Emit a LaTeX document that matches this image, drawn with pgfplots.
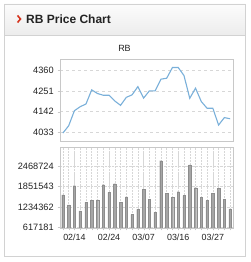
\documentclass[border=0pt]{standalone}
\usepackage{pgfplots}
\pgfplotsset{compat=1.18}
\usepackage{fontspec}
\setmainfont{Liberation Sans}
\definecolor{framec}{RGB}{210,210,210}
\definecolor{axc}{RGB}{200,200,200}
\definecolor{gridc}{RGB}{215,215,215}
\definecolor{linec}{RGB}{122,176,218}
\definecolor{barc}{RGB}{166,166,166}
\definecolor{txt}{RGB}{35,35,35}
\definecolor{hdtop}{RGB}{252,252,252}
\definecolor{hdbot}{RGB}{236,236,236}
\definecolor{chev}{RGB}{214,52,30}
\begin{document}
\begin{tikzpicture}[x=1pt,y=1pt]
\path[use as bounding box] (0,0) rectangle (250,262);
\fill[white] (0,0) rectangle (250,262);
\shade[top color=hdtop,bottom color=hdbot] (4,227) rectangle (245,258);
\draw[framec,line width=0.8pt] (4,6) rectangle (245,258);
\draw[framec,line width=0.8pt] (4,227) -- (245,227);
\draw[chev,line width=1.6pt] (17.5,246.5) -- (20.5,243) -- (17.5,239.5);
\node[anchor=west,inner sep=0pt,font=\fontsize{12}{14}\selectfont\bfseries,text=txt] at (26,243) {RB Price Chart};
\node[inner sep=0pt,font=\fontsize{9}{11}\selectfont,text=txt] at (124.5,213.7) {RB};
\begin{axis}[
  at={(60pt,121pt)}, anchor=south west,
  scale only axis, width=173pt, height=82pt,
  xmin=0.5, xmax=30.5, ymin=3988.5, ymax=4417.6,
  axis line style={axc},
  xtick=\empty,
  ytick={4033,4142,4251,4360},
  yticklabels={4033,4142,4251,4360},
  ymajorgrids, grid style={gridc,dashed,line width=0.5pt},
  tick style={axc}, major tick length=2.5pt,
  tick align=outside, ytick pos=left,
  yticklabel style={font=\fontsize{9.2}{10}\selectfont,text=txt,xshift=-0.3pt},
]
\addplot[linec,line width=1.1pt,mark=none] coordinates {
(1,4030) (2,4068) (3,4147) (4,4168) (5,4182) (6,4256) (7,4237) (8,4228) (9,4228) (10,4198)
(11,4175) (12,4217) (13,4230) (14,4273) (15,4213) (16,4251) (17,4251) (18,4312) (19,4317) (20,4373)
(21,4373) (22,4331) (23,4212) (24,4265) (25,4195) (26,4160) (27,4160) (28,4072) (29,4111) (30,4105)};
\end{axis}
\begin{axis}[
  at={(60pt,34pt)}, anchor=south west,
  scale only axis, width=173pt, height=81pt,
  xmin=0.5, xmax=30.5, ymin=596000, ymax=3042619,
  axis line style={axc},
  xtick={3,9,15,21,27},
  xticklabels={02/14,02/24,03/07,03/16,03/27},
  minor xtick={1,...,30},
  ytick={617181,1234362,1851543,2468724},
  yticklabels={617181,1234362,1851543,2468724},
  scaled y ticks=false,
  xmajorgrids, xminorgrids, ymajorgrids,
  grid style={gridc,densely dotted,line width=0.5pt},
  minor grid style={gridc,densely dotted,line width=0.5pt},
  tick style={axc}, major tick length=2.5pt, minor tick length=2.5pt,
  tick align=outside, ytick pos=left, xtick pos=bottom,
  yticklabel style={font=\fontsize{9.2}{10}\selectfont,text=txt,xshift=-0.3pt},
  xticklabel style={font=\fontsize{8.9}{10}\selectfont,text=txt,yshift=-0.5pt},
]
\addplot[ybar,bar width=2.4pt,bar shift=0pt,fill=barc,draw=barc!85!black,line width=0.3pt] coordinates {
(1,1593292) (2,1291402) (3,1875056) (4,1110268) (5,1371906) (6,1422221) (7,1442347) (8,1905245) (9,1673796) (10,1935434)
(11,1371906) (12,1532914) (13,999575) (14,1160583) (15,1764363) (16,1462473) (17,1070016) (18,2629781) (19,1643607) (20,1522851)
(21,1693922) (22,1573166) (23,2498962) (24,1814678) (25,1522851) (26,1422221) (27,1643607) (28,1794552) (29,1462473) (30,1170646)};
\end{axis}
\end{tikzpicture}
\end{document}
